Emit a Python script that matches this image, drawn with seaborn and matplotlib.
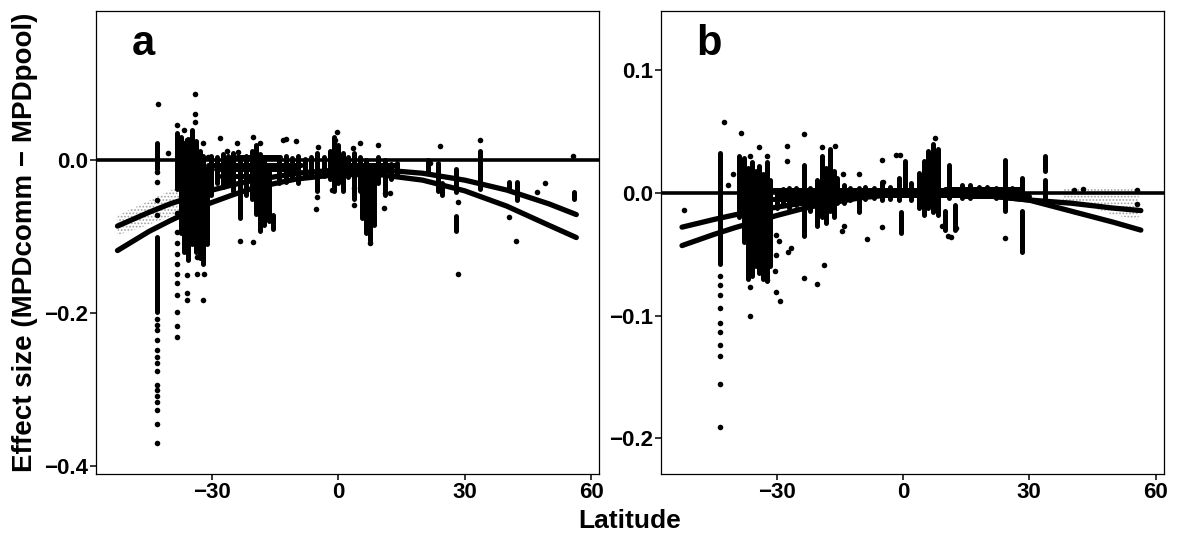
import numpy as np
import pandas as pd
import matplotlib
matplotlib.use("Agg")
import matplotlib.pyplot as plt
import seaborn as sns

# ---------------- data ----------------
# fitted curves (latitude, fitted effect size)
fit_lat = [-52.5, -45, -40, -35, -30, -25, -20, -10, 0, 10, 20, 30, 40, 50, 56.5]
fit_a_upper = [-0.086, -0.068, -0.057, -0.048, -0.039, -0.032, -0.026, -0.017, -0.0126,
               -0.0125, -0.017, -0.026, -0.039, -0.057, -0.071]
fit_a_lower = [-0.118, -0.093, -0.079, -0.066, -0.055, -0.045, -0.036, -0.0245, -0.0186,
               -0.019, -0.026, -0.040, -0.060, -0.085, -0.101]
fit_b_upper = [-0.028, -0.0218, -0.018, -0.0147, -0.0117, -0.009, -0.0067, -0.003, -0.0008,
               0.0, -0.0025, -0.0059, -0.0085, -0.0125, -0.0145]
fit_b_lower = [-0.043, -0.0340, -0.0285, -0.0235, -0.0185, -0.014, -0.0100, -0.004, -0.0008,
               -0.0001, -0.0022, -0.0060, -0.0150, -0.0240, -0.0304]

# light grey cloud around the fits
band_a_lat = [-52.5, -47, -42, -37, -35]
band_a_lo = [-0.098, -0.088, -0.078, -0.066, -0.062]
band_a_hi = [-0.072, -0.058, -0.045, -0.032, -0.028]
band_b_lat = [38, 45, 50, 56]
band_b_lo = [-0.006, -0.012, -0.018, -0.022]
band_b_hi = [0.004, 0.004, 0.004, 0.004]

# dense vertical runs of points: latitude, top, bottom
streak_a_lat = [-43.0, -43.0, -38.4, -37.5, -36.6, -35.7, -34.8, -33.9, -33.0, -32.1, -31.3,
                -30.4, -28.8, -27.5, -26.2, -25.0, -23.4, -22.0, -20.6, -19.6, -18.6, -17.6,
                -16.4, -15.6, -14.2, -12.5, -11.0, -9.5, -8.0, -6.5, -5.1, -3.5, -2.0, -1.0,
                0.0, 1.0, 2.3, 3.6, 5.0, 5.7, 6.6, 7.5, 8.4, 9.5, 11.0, 12.5, 14.0, 21.2,
                23.6, 24.5, 28.0, 28.0, 33.7, 42.5, 40.5, 55.9]
streak_a_top = [0.022, -0.100, 0.035, 0.030, 0.022, 0.028, 0.040, 0.025, 0.012, 0.005, -0.010,
                0.005, 0.004, 0.008, 0.006, 0.010, 0.002, 0.006, 0.012, 0.020, 0.008, 0.004,
                -0.010, -0.072, 0.004, 0.006, 0.003, 0.006, 0.002, 0.004, 0.010, 0.004, 0.012,
                0.030, 0.020, 0.010, 0.004, 0.010, 0.004, -0.020, 0.000, -0.010, -0.015, 0.004,
                0.000, -0.005, -0.004, 0.000, -0.004, -0.030, -0.012, -0.073, 0.012, -0.028,
                -0.028, -0.041]
streak_a_bot = [-0.012, -0.198, -0.037, -0.095, -0.120, -0.130, -0.110, -0.120, -0.128, -0.135,
                -0.110, -0.045, -0.030, -0.035, -0.030, -0.040, -0.075, -0.045, -0.050, -0.070,
                -0.092, -0.085, -0.080, -0.090, -0.030, -0.028, -0.025, -0.030, -0.022, -0.020,
                -0.040, -0.020, -0.025, -0.040, -0.030, -0.040, -0.022, -0.050, -0.040, -0.075,
                -0.095, -0.105, -0.085, -0.030, -0.045, -0.025, -0.020, -0.014, -0.040, -0.046,
                -0.042, -0.092, -0.038, -0.052, -0.037, -0.050]

# dense horizontal runs of points along the zero line: effect size, from latitude, to latitude
run_a_y = [-0.006, -0.012, -0.020, -0.006, -0.013, 0.004]
run_a_from = [-31.0, -29.0, -28.0, -1.0, -1.0, -24.0]
run_a_to = [-9.0, -10.0, -19.0, 14.0, 12.0, -14.0]
run_b_y = [0.002, -0.002, -0.005, 0.003, -0.003]
run_b_from = [-31.0, -30.0, -31.0, 10.0, 14.0]
run_b_to = [10.0, 29.0, -14.0, 28.0, 30.0]

# single points
dot_a_lat = [-42.9, -43.0, -43.0, -43.0, -43.0, -43.0, -43.0, -43.0, -43.0, -43.0, -43.0,
             -43.0, -43.0, -43.0, -43.0, -43.0, -43.0, -43.0, -43.0, -43.0,
             -40.4, -38.4, -38.4, -38.4, -38.4, -38.4, -38.4, -38.4, -38.4, -38.4, -38.4,
             -38.4, -38.4, -34.2, -34.0, -34.1, -36.0, -32.1, -36.7, -36.0, -36.0, -36.0,
             -32.1, -33.6, -33.6, -32.0, -28.1, -24.1, -23.9, -30.9, -26.5, -23.3, -20.2,
             -20.2, -18.6, -13.1, -12.4, -10.0, -4.8, -0.75, -0.4, 3.5, 5.2, 9.5, -5.2, -5.3,
             -1.5, 3.8, 3.8, 10.7, 11.0, 7.6, 12.3, 24.2, 33.7, 55.8, 21.8, 28.3, 28.3, 40.4,
             42.2, 47.2, 49.1]
dot_a_y = [0.073, -0.016, -0.029, -0.052, -0.072, -0.207, -0.215, -0.222, -0.235, -0.248,
           -0.257, -0.265, -0.275, -0.294, -0.300, -0.308, -0.316, -0.327, -0.344, -0.369,
           0.010, 0.046, -0.069, -0.094, -0.108, -0.122, -0.135, -0.148, -0.161, -0.176,
           -0.198, -0.216, -0.231, 0.086, 0.061, 0.050, 0.026, 0.022, 0.040, -0.150, -0.174,
           -0.182, -0.183, -0.126, -0.149, -0.148, 0.029, 0.023, 0.011, 0.004, 0.012, -0.105,
           -0.107, 0.030, 0.022, 0.027, 0.028, 0.025, 0.017, 0.027, 0.037, 0.016, 0.022,
           0.020, -0.048, -0.064, -0.039, -0.036, -0.058, -0.063, -0.043, -0.108, -0.043,
           0.018, 0.027, 0.005, -0.003, -0.149, -0.055, -0.074, -0.105, -0.042, -0.030]

streak_b_lat = [-43.4, -39.0, -37.7, -36.8, -35.9, -35.0, -34.1, -33.2, -32.3, -31.6, -30.0,
                -28.5, -27.0, -25.5, -23.6, -22.0, -20.5, -19.2, -18.3, -17.4, -16.5, -15.6,
                -14.0, -12.5, -10.5, -9.0, -7.0, -5.0, -3.0, -1.0, -0.5, 0.5, 2.0, 3.8, 5.0,
                6.0, 7.2, 8.2, 9.9, 11.0, 12.4, 14.0, 16.0, 18.0, 20.0, 22.0, 24.2, 26.0, 28.3,
                28.3, 33.7, 33.7]
streak_b_top = [0.032, 0.030, 0.028, 0.020, 0.025, 0.018, 0.022, 0.015, 0.025, 0.010, 0.002,
                0.003, 0.004, 0.004, 0.023, 0.004, 0.010, 0.030, 0.020, 0.036, 0.018, 0.012,
                0.006, 0.004, 0.004, 0.005, 0.004, 0.009, 0.005, 0.012, -0.016, 0.026, 0.008,
                0.016, 0.026, 0.034, 0.040, 0.036, -0.015, 0.023, -0.010, 0.006, 0.006, 0.005,
                0.005, 0.004, 0.027, 0.004, 0.012, -0.015, 0.030, 0.010]
streak_b_bot = [-0.058, -0.020, -0.040, -0.070, -0.068, -0.060, -0.065, -0.070, -0.072, -0.060,
                -0.012, -0.010, -0.012, -0.010, -0.035, -0.015, -0.027, -0.020, -0.025, -0.015,
                -0.020, -0.008, -0.008, -0.006, -0.016, -0.005, -0.004, -0.006, -0.005, -0.006,
                -0.033, 0.002, -0.006, -0.012, -0.018, -0.012, -0.016, -0.018, -0.030, -0.004,
                -0.030, -0.004, -0.004, -0.003, -0.003, -0.004, -0.015, -0.004, -0.004, -0.048,
                0.018, -0.004]

dot_b_lat = [-42.5, -43.4, -43.4, -43.4, -43.4, -43.4, -43.4, -43.4, -43.4, -43.4, -43.4,
             -38.5, -36.3, -34.1, -32.4, -41.6, -40.3, -36.3, -36.3, -36.3, -32.3, -30.2,
             -29.4, -30.2, -30.4, -30.2, -29.3, -26.7, -27.3, -27.5, -27.5, -23.6, -23.6,
             -20.5, -18.7, -19.2, -16.2, -14.3, -13.9, -14.5, -10.4, -8.6, -5.1, -4.7, -4.9,
             -1.6, -0.6, 7.7, 10.7, 9.3, 12.6, 11.5, 24.2, 40.6, 42.8, 55.6, 55.6, -52.0]
dot_b_y = [0.058, -0.068, -0.075, -0.083, -0.094, -0.106, -0.113, -0.124, -0.133, -0.156,
           -0.191, 0.049, 0.030, 0.037, 0.030, 0.006, 0.015, -0.064, -0.077, -0.100, -0.071,
           -0.034, -0.039, -0.051, -0.064, -0.081, -0.088, -0.045, -0.048, 0.038, 0.026,
           0.048, -0.069, -0.074, -0.059, 0.037, 0.038, 0.015, -0.027, -0.031, 0.015, -0.038,
           0.027, 0.009, -0.028, 0.031, 0.031, 0.045, -0.035, -0.027, -0.029, -0.036, -0.037,
           0.002, 0.003, 0.002, -0.009, -0.014]

x_ticks = [-30, 0, 30, 60]
y_ticks_a = [-0.4, -0.2, 0.0]
y_ticks_b = [-0.2, -0.1, 0.0, 0.1]

# ---------------- style ----------------
sns.set_theme(style="ticks")
plt.rcParams['font.family'] = ['Liberation Sans', 'DejaVu Sans']
plt.rcParams['font.weight'] = 'bold'
plt.rcParams['text.color'] = 'black'
plt.rcParams['axes.labelcolor'] = 'black'
plt.rcParams['xtick.color'] = 'black'
plt.rcParams['ytick.color'] = 'black'
plt.rcParams['hatch.linewidth'] = 0.8

fig = plt.figure(figsize=(11.82, 5.37), dpi=100)
ax_a = fig.add_axes([0.0816, 0.1173, 0.4252, 0.8622])
ax_b = fig.add_axes([0.5592, 0.1173, 0.4252, 0.8622])


def draw_panel(ax, s_lat, s_top, s_bot, r_y, r_from, r_to, d_lat, d_y, up, lo,
               b_lat, b_lo, b_hi, ylim, yticks, letter):
    ax.fill_between(b_lat, b_lo, b_hi, facecolor='none', edgecolor='#a0a0a0',
                    hatch='.....', linewidth=0, zorder=1)
    ax.vlines(s_lat, s_bot, s_top, color='black', linewidth=3.6, capstyle='round', zorder=2)
    ax.hlines(r_y, r_from, r_to, color='black', linewidth=3.6, capstyle='round', zorder=2)
    dots = pd.DataFrame({'lat': d_lat, 'es': d_y})
    sns.scatterplot(data=dots, x='lat', y='es', color='black', s=16, linewidth=0,
                    ax=ax, zorder=3)
    ax.axhline(0, color='black', linewidth=2.6, zorder=4)
    fits = pd.DataFrame({'lat': fit_lat * 2, 'fit': up + lo,
                         'model': ['upper'] * len(fit_lat) + ['lower'] * len(fit_lat)})
    sns.lineplot(data=fits, x='lat', y='fit', hue='model', palette=['black', 'black'],
                 linewidth=3.8, legend=False, ax=ax, zorder=5)
    for ln in ax.lines:
        ln.set_solid_capstyle('round')
    ax.set_xlim(-57.5, 61.9)
    ax.set_ylim(*ylim)
    ax.set_xticks(x_ticks)
    ax.set_yticks(yticks)
    ax.set_xlabel('')
    ax.set_ylabel('')
    for sp in ax.spines.values():
        sp.set_visible(True)
        sp.set_linewidth(0.9)
        sp.set_color('black')
    ax.tick_params(direction='out', length=4, width=1.1, colors='black',
                   labelsize=16, pad=2)
    for lab in ax.get_xticklabels() + ax.get_yticklabels():
        lab.set_fontweight('bold')
    ax.text(0.07, 0.905, letter, transform=ax.transAxes, fontsize=30,
            fontweight='bold', ha='left', va='baseline', color='black')


draw_panel(ax_a, streak_a_lat, streak_a_top, streak_a_bot, run_a_y, run_a_from, run_a_to,
           dot_a_lat, dot_a_y, fit_a_upper, fit_a_lower, band_a_lat, band_a_lo, band_a_hi,
           (-0.41, 0.195), y_ticks_a, 'a')
draw_panel(ax_b, streak_b_lat, streak_b_top, streak_b_bot, run_b_y, run_b_from, run_b_to,
           dot_b_lat, dot_b_y, fit_b_upper, fit_b_lower, band_b_lat, band_b_lo, band_b_hi,
           (-0.229, 0.148), y_ticks_b, 'b')

fig.text(0.021, 0.548, 'Effect size (MPDcomm \u2212 MPDpool)', rotation=90,
         ha='center', va='center', fontsize=20, fontweight='bold', color='black')
fig.text(0.533, 0.030, 'Latitude', ha='center', va='center', fontsize=19,
         fontweight='bold', color='black')

fig.savefig('out.png', dpi=100)
